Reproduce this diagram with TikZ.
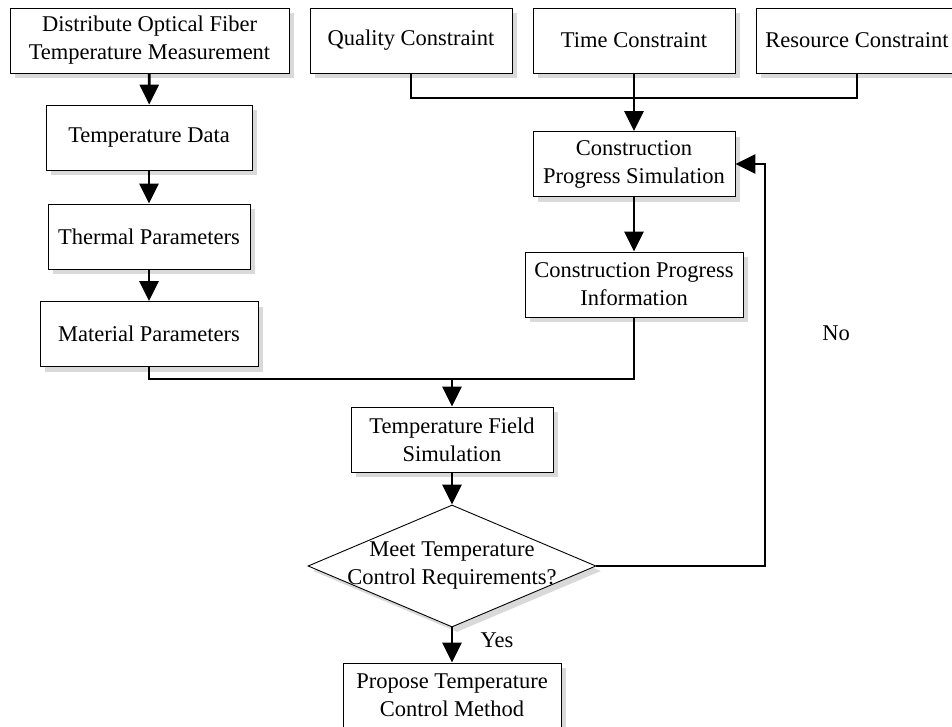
\documentclass[tikz,border=0pt]{standalone}
\usepackage{fontspec}
\setmainfont{Liberation Serif}
\usetikzlibrary{arrows.meta,shapes.geometric,shadows}
\begin{document}
\begin{tikzpicture}[x=1pt,y=-1pt,
  shad/.style={drop shadow={shadow xshift=5pt, shadow yshift=-5pt, fill=black!15, opacity=1}},
  box/.style={draw, line width=0.9pt, fill=white, minimum height=65pt, inner sep=0pt, align=center,
    font=\fontsize{22.5}{28}\selectfont, shad},
  conn/.style={line width=2.8pt},
  arr/.style={conn, -{Triangle[length=20pt,width=19pt]}},
  lbl/.style={font=\fontsize{22.5}{28}\selectfont, inner sep=0pt}
]
\clip (0,0) rectangle (952,726);
\node[box, minimum width=279pt] (dofm) at (149.5,40.5) {Distribute Optical Fiber\\Temperature Measurement};
\node[box, minimum width=202pt] (qc) at (411,40.5) {Quality Constraint};
\node[box, minimum width=202pt] (tc) at (634,40.5) {Time Constraint};
\node[box, minimum width=202pt] (rc) at (857,40.5) {Resource Constraint};
\node[box, minimum width=206pt] (td) at (149,137.5) {Temperature Data};
\node[box, minimum width=202pt] (tp) at (149,236.5) {Thermal Parameters};
\node[box, minimum width=218pt] (mp) at (149,334) {Material Parameters};
\node[box, minimum width=202pt] (cps) at (634,164) {Construction\\Progress Simulation};
\node[box, minimum width=218pt] (cpi) at (634,284.5) {Construction Progress\\Information};
\node[box, minimum width=202pt] (tfs) at (452,439.5) {Temperature Field\\Simulation};
\node[draw, diamond, line width=0.9pt, fill=white, inner sep=0pt, minimum width=288pt, minimum height=122pt, shad] (dec) at (452,566) {};
\node[lbl, align=center] (dect) at (452,566) {Meet Temperature\\Control Requirements?};
\node[box, minimum width=218pt] (ptc) at (452,695.5) {Propose Temperature\\Control Method};
\node[lbl] (no) at (836,333) {No};
\node[lbl] (yes) at (497,640) {Yes};
\coordinate (topbus) at (0,98);
\coordinate (midbus) at (0,379);
\coordinate (fb) at (765,0);
\draw[arr] (dofm) -- (td);
\draw[arr] (td) -- (tp);
\draw[arr] (tp) -- (mp);
\draw[conn] (qc.south) -- (qc.south |- topbus) -- (rc.south |- topbus) -- (rc.south);
\draw[arr] (tc) -- (cps);
\draw[arr] (cps) -- (cpi);
\draw[conn] (mp.south) -- (mp.south |- midbus) -- (cpi.south |- midbus) -- (cpi.south);
\draw[arr] (tfs.north |- midbus) -- (tfs.north);
\draw[arr] (tfs) -- (dec);
\draw[arr] (dec) -- (ptc);
\draw[arr] (dec.east) -- (dec.east -| fb) -- (fb |- cps.east) -- (cps.east);
\end{tikzpicture}
\end{document}
